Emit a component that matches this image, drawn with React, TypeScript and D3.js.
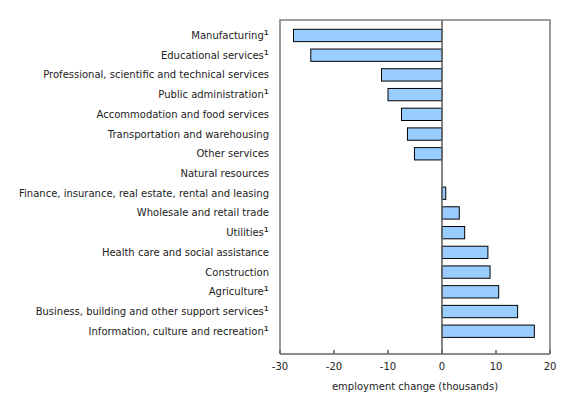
import React from "react";
import * as d3 from "d3";

const categories = [
  "Manufacturing¹",
  "Educational services¹",
  "Professional, scientific and technical services",
  "Public administration¹",
  "Accommodation and food services",
  "Transportation and warehousing",
  "Other services",
  "Natural resources",
  "Finance, insurance, real estate, rental and leasing",
  "Wholesale and retail trade",
  "Utilities¹",
  "Health care and social assistance",
  "Construction",
  "Agriculture¹",
  "Business, building and other support services¹",
  "Information, culture and recreation¹",
];
const values = [-27.5, -24.3, -11.2, -10.0, -7.5, -6.4, -5.1, 0, 0.7, 3.2, 4.2, 8.5, 8.9, 10.5, 14.0, 17.1];
const xTicks = [-30, -20, -10, 0, 10, 20];
const xTitle = "employment change (thousands)";

export default function App() {
  const W = 580, H = 395;
  const left = 280, right = 550, top = 20, bottom = 354;
  const x = d3.scaleLinear().domain([-30, 20]).range([left, right]);
  const y = d3.scaleBand<string>().domain(categories).range([25.6, 341.1]).paddingInner(0.375).paddingOuter(0.1875);
  const font = "Verdana, 'DejaVu Sans', sans-serif";
  return (
    <svg width={W} height={H} style={{ position: "absolute", left: 0, top: 0 }} fontFamily={font}>
      <rect x={0} y={0} width={W} height={H} fill="#fff" />
      {categories.map((c, i) => {
        const v = values[i];
        if (v === 0) return null;
        const x0 = x(Math.min(0, v)), x1 = x(Math.max(0, v));
        return (
          <rect key={c} x={x0} y={y(c)!} width={x1 - x0} height={y.bandwidth()} fill="#99ccff" stroke="#000" strokeWidth={1} />
        );
      })}
      {/* frame */}
      <path d={`M${left},${bottom} V${top} H${right} V${bottom}`} fill="none" stroke="#808080" strokeWidth={1.6} />
      <line x1={x(0)} x2={x(0)} y1={top} y2={bottom} stroke="#666" strokeWidth={1.6} />
      <line x1={left} x2={right} y1={bottom} y2={bottom} stroke="#666" strokeWidth={1.6} />
      {xTicks.map((t) => (
        <g key={t}>
          <line x1={x(t)} x2={x(t)} y1={bottom} y2={bottom - 4} stroke="#666" strokeWidth={1.6} />
          <text x={x(t)} y={370} textAnchor="middle" fontSize={10} fill="#222">{t}</text>
        </g>
      ))}
      {categories.map((c) => {
        const sup = c.endsWith("¹");
        const base = sup ? c.slice(0, -1) : c;
        return (
          <text key={c} x={269} y={y(c)! + y.bandwidth() / 2} dy="0.35em" textAnchor="end" fontSize={10} fill="#222">
            {base}
            {sup && <tspan fontSize={13}>¹</tspan>}
          </text>
        );
      })}
      <text x={(left + right) / 2} y={390} textAnchor="middle" fontSize={10} fill="#222">{xTitle}</text>
    </svg>
  );
}
